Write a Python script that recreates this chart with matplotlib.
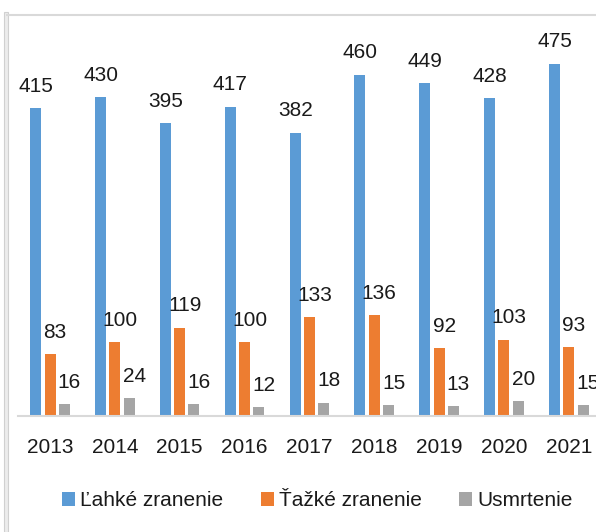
import numpy as np
import matplotlib.pyplot as plt
from matplotlib.patches import Rectangle
from matplotlib.lines import Line2D

plt.rcParams['font.family'] = ['Liberation Sans', 'DejaVu Sans']

roky = ['2013', '2014', '2015', '2016', '2017', '2018', '2019', '2020', '2021']
lahke = [415, 430, 395, 417, 382, 460, 449, 428, 475]
tazke = [83, 100, 119, 100, 133, 136, 92, 103, 93]
usmrtenie = [16, 24, 16, 12, 18, 15, 13, 20, 15]
nazvy = ['Ľahké zranenie', 'Ťažké zranenie', 'Usmrtenie']
farby = ['#5B9BD5', '#ED7D31', '#A5A5A5']

W, H = 596, 532
fig = plt.figure(figsize=(W / 100, H / 100), dpi=100)

# os grafu (pravy okraj je odrezany ako na predlohe)
ax = fig.add_axes([17.6 / W, (H - 416) / H, (601.2 - 17.6) / W, 371 / H])
x = np.arange(len(roky))
sirka = 0.17
krok = 0.22
fs = 15

for i, (hodnoty, farba, dx) in enumerate(zip([lahke, tazke, usmrtenie], farby, [0, 5, 5])):
    bars = ax.bar(x + (i - 1) * krok, hodnoty, sirka, color=farba, label=nazvy[i], zorder=2)
    for b, v in zip(bars, hodnoty):
        ax.annotate(str(v), (b.get_x() + b.get_width() / 2, b.get_height()),
                    xytext=(dx * 0.72, 8.8), textcoords='offset points',
                    ha='center', va='bottom', fontsize=fs, color='#1a1a1a',
                    annotation_clip=False)

ax.set_xlim(-0.5, len(roky) - 0.5)
ax.set_ylim(0, 500)
ax.set_xticks(x)
ax.set_xticklabels(roky, fontsize=fs, color='#1a1a1a')
ax.tick_params(axis='x', length=0, pad=15.5)
ax.set_yticks([])
for s in ['top', 'right', 'left']:
    ax.spines[s].set_visible(False)
ax.spines['bottom'].set_color('#d9d9d9')
ax.spines['bottom'].set_linewidth(1.5)
ax.set_facecolor('none')

# ramik okolo grafu
fig.patches.append(Rectangle((4 / W, 0), 4 / W, (H - 12) / H, transform=fig.transFigure,
                             facecolor='#ececec', edgecolor='#d0d0d0', lw=0.8))
fig.lines.append(Line2D([7 / W, 1], [1 - 14.5 / H, 1 - 14.5 / H], transform=fig.transFigure,
                        color='#d9d9d9', lw=1.5))

leg = ax.legend(loc='center left', bbox_to_anchor=(62 / W, 1 - 501 / H),
                bbox_transform=fig.transFigure, ncol=3, frameon=False, fontsize=fs,
                handlelength=0.62, handleheight=0.62, handletextpad=0.25,
                columnspacing=1.8, borderpad=0, borderaxespad=0)
for t in leg.get_texts():
    t.set_color('#1a1a1a')

fig.savefig('out.png', dpi=100)
